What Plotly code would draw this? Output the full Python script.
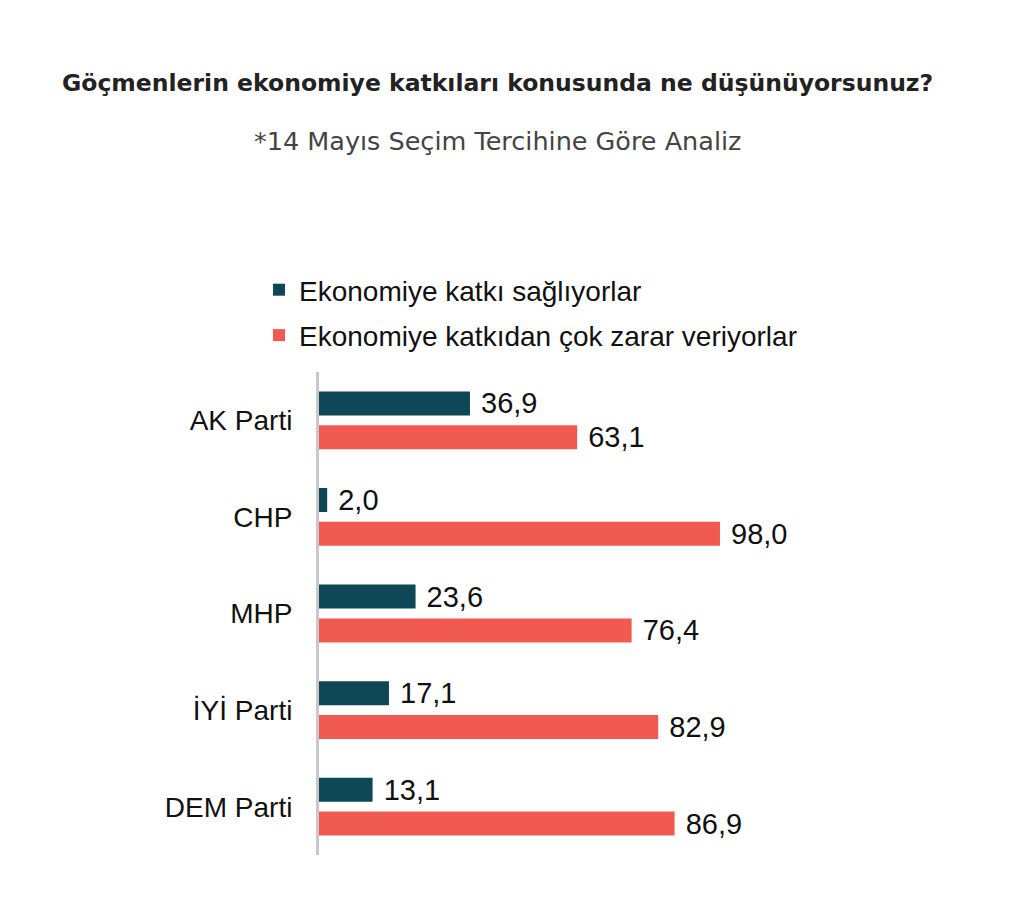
import plotly.graph_objects as go

categories = ["AK Parti", "CHP", "MHP", "İYİ Parti", "DEM Parti"]
series_names = ["Ekonomiye katkı sağlıyorlar", "Ekonomiye katkıdan çok zarar veriyorlar"]
katki = [36.9, 2.0, 23.6, 17.1, 13.1]
zarar = [63.1, 98.0, 76.4, 82.9, 86.9]
colors = ["#0E4755", "#F05A50"]

title_text = "Göçmenlerin ekonomiye katkıları konusunda ne düşünüyorsunuz?"
subtitle_text = "*14 Mayıs Seçim Tercihine Göre Analiz"

W, H = 1027, 899
OFF = 8  # page offset of the figure
L, T, B, R = 311, 364, 52, 225
pw = W - L - R
ph = H - T - B


def sx(x):
    return (x - OFF - L) / pw


def sy(y):
    return 1 + (T - (y - OFF)) / ph


LABEL_FONT = "Liberation Sans"
TXT = "#111111"

fig = go.Figure()
for name, vals, col in zip(series_names, [katki, zarar], colors):
    fig.add_trace(go.Bar(
        y=categories, x=vals, orientation="h", name=name,
        marker=dict(color=col, line=dict(width=0)),
        texttemplate=" %{x:.1f}", textposition="outside", constraintext="none",
        textfont=dict(family=LABEL_FONT, size=29, color=TXT),
        cliponaxis=False, showlegend=False, hoverinfo="skip",
    ))
for i, (name, col) in enumerate(zip(series_names, colors)):
    fig.add_trace(go.Scatter(
        x=[None], y=[None], mode="markers", name=name,
        marker=dict(symbol="square", size=16, color=col),
        legendgroup=f"g{i}", showlegend=True,
    ))

fig.update_layout(
    width=W, height=H,
    margin=dict(l=L, r=R, t=T, b=B, pad=0),
    paper_bgcolor="white", plot_bgcolor="white",
    barmode="group", bargap=0.3, bargroupgap=0.29,
    separators=",.",
    showlegend=True,
    legend=dict(
        x=sx(259), xanchor="left",
        y=sy(265), yanchor="top",
        font=dict(family=LABEL_FONT, size=28, color=TXT),
        traceorder="grouped", tracegroupgap=6,
        itemsizing="constant", bgcolor="rgba(0,0,0,0)",
    ),
    xaxis=dict(range=[0, 120], visible=False, fixedrange=True),
    yaxis=dict(
        categoryorder="array", categoryarray=categories, autorange="reversed",
        showline=True, linecolor="#C8C8C8", linewidth=3,
        showgrid=False, zeroline=False, ticks="",
        tickfont=dict(family=LABEL_FONT, size=28, color=TXT),
        ticklabelstandoff=18,
    ),
    annotations=[
        dict(text=f"<b>{title_text}</b>", xref="paper", yref="paper",
             x=sx(497), y=sy(83), xanchor="center", yanchor="middle",
             showarrow=False, font=dict(family="DejaVu Sans", size=23.5, color="#222222")),
        dict(text=subtitle_text, xref="paper", yref="paper",
             x=sx(497), y=sy(141), xanchor="center", yanchor="middle",
             showarrow=False, font=dict(family="DejaVu Sans", size=25.5, color="#444444")),
    ],
)

fig.write_html("out.html")
